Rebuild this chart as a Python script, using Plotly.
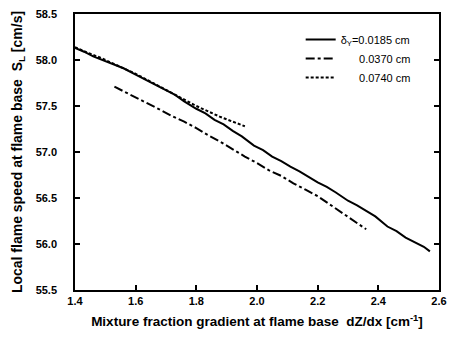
import plotly.graph_objects as go

# delta_Y = 0.0185 cm (solid)
x_a = [1.40, 1.43, 1.46, 1.50, 1.53, 1.56, 1.60, 1.63, 1.66, 1.70, 1.73, 1.76, 1.80, 1.83,
       1.86, 1.89, 1.92, 1.95, 1.99, 2.02, 2.05, 2.08, 2.11, 2.14, 2.17, 2.20, 2.23, 2.26,
       2.30, 2.33, 2.36, 2.39, 2.43, 2.46, 2.49, 2.52, 2.55, 2.57]
y_a = [58.13, 58.09, 58.04, 57.99, 57.95, 57.91, 57.84, 57.79, 57.74, 57.67, 57.62, 57.55, 57.47, 57.42,
       57.35, 57.30, 57.23, 57.17, 57.07, 57.02, 56.95, 56.90, 56.84, 56.79, 56.73, 56.67, 56.62, 56.56,
       56.47, 56.42, 56.36, 56.30, 56.19, 56.14, 56.07, 56.02, 55.97, 55.92]

# delta_Y = 0.0370 cm (dash-dot)
x_b = [1.53, 1.56, 1.60, 1.64, 1.68, 1.72, 1.76, 1.80, 1.84, 1.88, 1.92, 1.96, 2.00,
       2.04, 2.08, 2.12, 2.16, 2.20, 2.24, 2.28, 2.32, 2.36]
y_b = [57.71, 57.66, 57.60, 57.53, 57.46, 57.39, 57.33, 57.26, 57.18, 57.11, 57.03, 56.95, 56.88,
       56.80, 56.74, 56.66, 56.59, 56.52, 56.43, 56.34, 56.25, 56.16]

# delta_Y = 0.0740 cm (dotted)
x_c = [1.40, 1.44, 1.48, 1.52, 1.56, 1.60, 1.64, 1.68, 1.72, 1.76, 1.80, 1.84, 1.88, 1.92, 1.96]
y_c = [58.14, 58.08, 58.03, 57.97, 57.91, 57.85, 57.78, 57.71, 57.64, 57.57, 57.50, 57.44, 57.38, 57.33, 57.28]

pad = "\u00a0" * 6
names = ["δ<sub>Y</sub>=0.0185 cm", pad + "0.0370 cm", pad + "0.0740 cm"]
x_ticks = [1.4, 1.6, 1.8, 2.0, 2.2, 2.4, 2.6]
y_ticks = [55.5, 56.0, 56.5, 57.0, 57.5, 58.0, 58.5]

fig = go.Figure()
fig.add_trace(go.Scatter(x=x_a, y=y_a, mode="lines", name=names[0],
                         line=dict(color="black", width=2, dash="solid")))
fig.add_trace(go.Scatter(x=x_b, y=y_b, mode="lines", name=names[1],
                         line=dict(color="black", width=2, dash="dashdot")))
fig.add_trace(go.Scatter(x=x_c, y=y_c, mode="lines", name=names[2],
                         line=dict(color="black", width=2, dash="3px,2px")))

tickfont = dict(family="Liberation Sans, Arial", size=11, color="black", weight="bold")
xtitlefont = dict(family="Liberation Sans, Arial", size=13.5, color="black", weight="bold")
ytitlefont = dict(family="Liberation Sans, Arial", size=14, color="black", weight="bold")

fig.update_layout(
    width=455, height=339,
    margin=dict(l=75, r=8, t=10, b=49),
    plot_bgcolor="white", paper_bgcolor="white",
    showlegend=True,
    legend=dict(x=0.62, y=0.96, xanchor="left", yanchor="top",
                bgcolor="rgba(0,0,0,0)", borderwidth=0,
                font=dict(family="Liberation Sans, Arial", size=11, color="black"),
                tracegroupgap=0, itemwidth=30),
    xaxis=dict(range=[1.4, 2.6], tickvals=x_ticks, ticktext=[f"{v:.1f}" for v in x_ticks],
               ticks="inside", ticklen=5, tickwidth=1.5, tickcolor="black",
               showline=True, linecolor="black", linewidth=1.5, mirror=True,
               showgrid=False, zeroline=False, tickfont=tickfont,
               title=dict(text="Mixture fraction gradient at flame base  dZ/dx [cm<sup>-1</sup>]",
                          font=xtitlefont, standoff=11)),
    yaxis=dict(range=[55.5, 58.5], tickvals=y_ticks, ticktext=[f"{v:.1f}" for v in y_ticks],
               ticks="inside", ticklen=5, tickwidth=1.5, tickcolor="black",
               showline=True, linecolor="black", linewidth=1.5, mirror="ticks",
               showgrid=False, zeroline=False, tickfont=tickfont, ticklabelstandoff=14,
               title=dict(text="Local flame speed at flame base  S<sub>L</sub> [cm/s]",
                          font=ytitlefont, standoff=10)),
)

fig.write_html("out.html")
